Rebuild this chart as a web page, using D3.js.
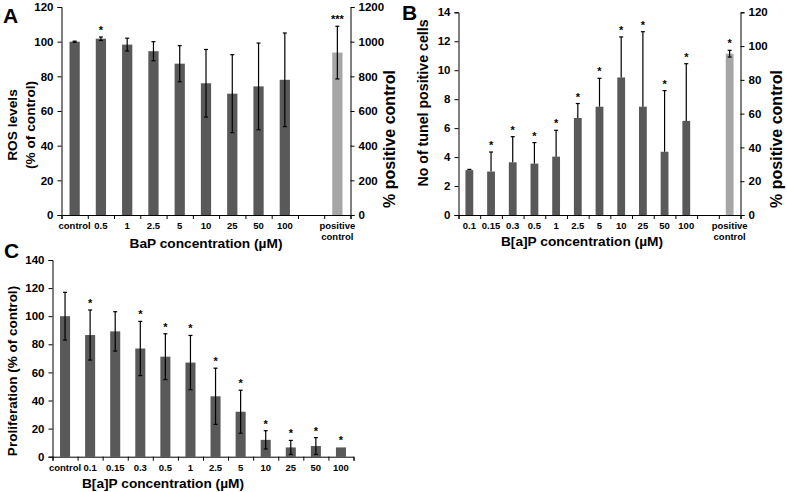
<!DOCTYPE html>
<html><head><meta charset="utf-8">
<script src="https://cdn.jsdelivr.net/npm/d3@7"></script>
<style>
html,body{margin:0;padding:0;background:#fff;}
svg text{font-family:"Liberation Sans",Arial,sans-serif;font-weight:bold;fill:#000;}
</style></head>
<body><svg id="chart" width="787" height="492"></svg>
<script>
// ---------- Panel A data ----------
const aCats = ["control","0.5","1","2.5","5","10","25","50","100","","positive control"];
const aVals = [100, 101.7, 98.3, 94.5, 87.3, 76, 70, 74.2, 78];
const aErr  = [0.3, 1, 3.7, 5.5, 10.4, 19.5, 22.5, 25, 27];
const aSig  = ["", "*", "", "", "", "", "", "", ""];
const aPosVal = 937, aPosErr = 152, aPosSig = "***";
const aLeftTicks = [0,20,40,60,80,100,120];
const aRightTicks = [0,200,400,600,800,1000,1200];

// ---------- Panel B data ----------
const bCats = ["0.1","0.15","0.3","0.5","1","2.5","5","10","25","50","100","","positive control"];
const bVals = [3.1, 3.0, 3.64, 3.55, 4.03, 6.7, 7.48, 9.5, 7.48, 4.37, 6.5];
const bErr  = [0.05, 1.35, 1.77, 1.45, 1.82, 1.0, 1.96, 2.8, 5.18, 4.22, 3.95];
const bSig  = ["", "*", "*", "*", "*", "*", "*", "*", "*", "*", "*"];
const bPosVal = 95.5, bPosErr = 2, bPosSig = "*";
const bLeftTicks = [0,2,4,6,8,10,12,14];
const bRightTicks = [0,20,40,60,80,100,120];

// ---------- Panel C data ----------
const cCats = ["control","0.1","0.15","0.3","0.5","1","2.5","5","10","25","50","100"];
const cVals = [100, 86.6, 89.2, 77, 71.2, 67, 43, 32, 12, 6.6, 7.6, 6.6];
const cErr  = [17, 17.8, 14, 19.3, 16.3, 19.3, 20, 15.3, 6.5, 5, 6, 0];
const cSig  = ["", "*", "", "*", "*", "*", "*", "*", "*", "*", "*", "*"];
const cTicks = [0,20,40,60,80,100,120,140];

const DARK = "#595959", LIGHT = "#a6a6a6";
const svg = d3.select("#chart");

function panel(o){
  const g = svg.append("g");
  const n = o.cats.length;
  const x = d3.scaleBand().domain(d3.range(n)).range([o.x0, o.x1]).paddingInner(o.pad).paddingOuter(o.pad/2);
  const xb = d3.scaleLinear().domain([0, n]).range([o.x0, o.x1]);
  const y = d3.scaleLinear().domain([0, o.yMax]).range([o.yB, o.yT]);
  const yR = o.yRMax ? d3.scaleLinear().domain([0, o.yRMax]).range([o.yB, o.yT]) : null;

  // bars
  const bars = o.vals.map((v,i)=>({i, v, e:o.err[i], s:o.sig[i], sc:y, col:DARK, lower:o.lower}));
  if (o.posVal != null) bars.push({i:n-1, v:o.posVal, e:o.posErr, s:o.posSig, sc:yR, col:LIGHT, lower:true});
  g.selectAll("rect.bar").data(bars).join("rect")
    .attr("x", d=>x(d.i)).attr("width", x.bandwidth())
    .attr("y", d=>d.sc(d.v)).attr("height", d=>o.yB - d.sc(d.v))
    .attr("fill", d=>d.col);
  // error bars
  const eb = bars.filter(d=>d.e>0);
  const cx = d=>x(d.i)+x.bandwidth()/2;
  g.selectAll("line.ev").data(eb).join("line")
    .attr("x1", cx).attr("x2", cx)
    .attr("y1", d=>d.sc(d.v + d.e)).attr("y2", d=>d.sc(d.lower ? d.v - d.e : d.v))
    .attr("stroke","#000").attr("stroke-width",1.2);
  g.selectAll("line.et").data(eb).join("line")
    .attr("x1", d=>cx(d)-2).attr("x2", d=>cx(d)+2)
    .attr("y1", d=>d.sc(d.v + d.e)).attr("y2", d=>d.sc(d.v + d.e))
    .attr("stroke","#000").attr("stroke-width",1.2);
  g.selectAll("line.eb").data(eb.filter(d=>d.lower)).join("line")
    .attr("x1", d=>cx(d)-2).attr("x2", d=>cx(d)+2)
    .attr("y1", d=>d.sc(d.v - d.e)).attr("y2", d=>d.sc(d.v - d.e))
    .attr("stroke","#000").attr("stroke-width",1.2);
  // significance
  g.selectAll("text.sig").data(bars.filter(d=>d.s)).join("text")
    .attr("x", cx).attr("y", d=>d.sc(d.v + d.e) - 3)
    .attr("text-anchor","middle").attr("font-size", 11).text(d=>d.s);

  // left axis
  const la = g.append("g").attr("transform",`translate(${o.x0},0)`)
    .call(d3.axisLeft(y).tickValues(o.ticks).tickSize(4).tickPadding(4).tickFormat(d3.format("d")));
  la.selectAll("text").attr("font-size",11.5);
  // right axis
  if (yR){
    const ra = g.append("g").attr("transform",`translate(${o.x1},0)`)
      .call(d3.axisRight(yR).tickValues(o.rTicks).tickSize(4).tickPadding(4).tickFormat(d3.format("d")));
    ra.selectAll("text").attr("font-size",11.5);
  }
  // bottom axis: boundary ticks
  g.append("g").attr("transform",`translate(0,${o.yB})`)
    .call(d3.axisBottom(xb).tickValues(d3.range(n+1)).tickSize(4).tickFormat(""));
  // category labels
  const lab = g.append("g").selectAll("text").data(o.cats.map((c,i)=>({c,i}))).join("text")
    .attr("x", d=>x(d.i)+x.bandwidth()/2).attr("y", o.yB+14)
    .attr("text-anchor","middle").attr("font-size",9.5);
  lab.each(function(d){
    const parts = d.c.split(" ");
    const t = d3.select(this);
    if (d.c === "positive control"){
      t.append("tspan").attr("x", x(d.i)+x.bandwidth()/2).attr("dy",0).text(parts[0]);
      t.append("tspan").attr("x", x(d.i)+x.bandwidth()/2).attr("dy",10.5).text(parts[1]);
    } else t.text(d.c);
  });
  svg.selectAll(".domain, .tick line").attr("stroke","#000").attr("stroke-width",1);
  // titles
  g.append("text").attr("x", o.xtX).attr("y", o.xtY).attr("text-anchor","middle")
    .attr("font-size",13.7).text(o.xTitle);
  o.yTitles.forEach(t=>{
    g.append("text").attr("transform",`translate(${t.x},${t.y}) rotate(-90)`)
      .attr("text-anchor","middle").attr("font-size",t.fs).text(t.text);
  });
  g.append("text").attr("x", o.letter.x).attr("y", o.letter.y).attr("font-size",21).text(o.letter.t);
}

panel({cats:aCats, vals:aVals, err:aErr, sig:aSig, lower:true,
  posVal:aPosVal, posErr:aPosErr, posSig:aPosSig,
  x0:61.5, x1:350.5, yT:7, yB:215, yMax:120, yRMax:1200, ticks:aLeftTicks, rTicks:aRightTicks, pad:0.61,
  xTitle:"BaP concentration (µM)", xtX:206, xtY:248,
  yTitles:[{text:"ROS levels", x:17, y:125, fs:13.7},{text:"(% of control)", x:35, y:125, fs:13.7},
           {text:"% positive control", x:395, y:139, fs:16}],
  letter:{t:"A", x:3, y:23}});

panel({cats:bCats, vals:bVals, err:bErr, sig:bSig, lower:false,
  posVal:bPosVal, posErr:bPosErr, posSig:bPosSig,
  x0:458.5, x1:740.5, yT:12.3, yB:215, yMax:14, yRMax:120, ticks:bLeftTicks, rTicks:bRightTicks, pad:0.64,
  xTitle:"B[a]P concentration (µM)", xtX:582, xtY:246,
  yTitles:[{text:"No of tunel positive cells", x:428, y:103, fs:14.2},
           {text:"% positive control", x:782, y:139, fs:16}],
  letter:{t:"B", x:402, y:20}});

panel({cats:cCats, vals:cVals, err:cErr, sig:cSig, lower:true,
  posVal:null,
  x0:52.5, x1:353.5, yT:260, yB:456.7, yMax:140, yRMax:null, ticks:cTicks, pad:0.6,
  xTitle:"B[a]P concentration (µM)", xtX:163, xtY:488,
  yTitles:[{text:"Proliferation (% of control)", x:17, y:371, fs:13.5}],
  letter:{t:"C", x:4, y:258}});
</script></body></html>
